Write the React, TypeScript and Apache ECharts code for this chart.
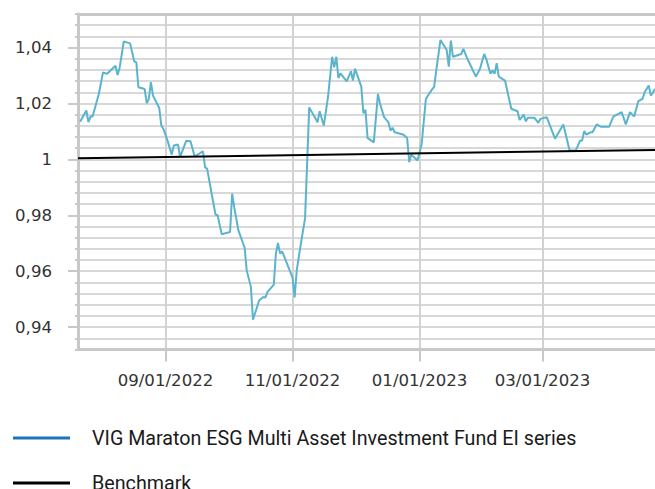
import React, { useEffect, useRef } from 'react';
import * as echarts from 'echarts';

const xStart = '2022-07-21';
const xEnd = '2023-04-24';
const xTickDates = ['2022-09-01', '2022-11-01', '2023-01-01', '2023-03-01'];

const yMin = 0.932;
const yMax = 1.052;
const yStep = 0.004;
const yLabelValues = [0.94, 0.96, 0.98, 1, 1.02, 1.04];

const fundName = 'VIG Maraton ESG Multi Asset Investment Fund EI series';
const benchName = 'Benchmark';

const fundDates = [
  '2022-07-22', '2022-07-25', '2022-07-26', '2022-07-27', '2022-07-28', '2022-07-31',
  '2022-08-02', '2022-08-04', '2022-08-08', '2022-08-09', '2022-08-10', '2022-08-12',
  '2022-08-15', '2022-08-17', '2022-08-18', '2022-08-19', '2022-08-22', '2022-08-23',
  '2022-08-24', '2022-08-25', '2022-08-26', '2022-08-29', '2022-08-30', '2022-08-31',
  '2022-09-02', '2022-09-04', '2022-09-05', '2022-09-07', '2022-09-08', '2022-09-11',
  '2022-09-13', '2022-09-15', '2022-09-19', '2022-09-20', '2022-09-21', '2022-09-25',
  '2022-09-26', '2022-09-28', '2022-10-02', '2022-10-03', '2022-10-04', '2022-10-06',
  '2022-10-09', '2022-10-10', '2022-10-12', '2022-10-13', '2022-10-16', '2022-10-18',
  '2022-10-19', '2022-10-20', '2022-10-23', '2022-10-24', '2022-10-25', '2022-10-26',
  '2022-10-27', '2022-11-01', '2022-11-02', '2022-11-03', '2022-11-05', '2022-11-07',
  '2022-11-09', '2022-11-13', '2022-11-14', '2022-11-16', '2022-11-18', '2022-11-20',
  '2022-11-21', '2022-11-22', '2022-11-23', '2022-11-24', '2022-11-27', '2022-11-29',
  '2022-11-30', '2022-12-01', '2022-12-04', '2022-12-05', '2022-12-06', '2022-12-07',
  '2022-12-10', '2022-12-12', '2022-12-13', '2022-12-15', '2022-12-17', '2022-12-18',
  '2022-12-19', '2022-12-20', '2022-12-24', '2022-12-26', '2022-12-27', '2022-12-28',
  '2022-12-31', '2023-01-02', '2023-01-04', '2023-01-06', '2023-01-08', '2023-01-09',
  '2023-01-11', '2023-01-14', '2023-01-15', '2023-01-16', '2023-01-17', '2023-01-21',
  '2023-01-22', '2023-01-24', '2023-01-28', '2023-01-30', '2023-02-01', '2023-02-02',
  '2023-02-04', '2023-02-05', '2023-02-06', '2023-02-07', '2023-02-08', '2023-02-11',
  '2023-02-14', '2023-02-17', '2023-02-18', '2023-02-20', '2023-02-21', '2023-02-22',
  '2023-02-25', '2023-02-27', '2023-02-28', '2023-03-03', '2023-03-07', '2023-03-11',
  '2023-03-14', '2023-03-17', '2023-03-19', '2023-03-20', '2023-03-21', '2023-03-22',
  '2023-03-24', '2023-03-25', '2023-03-27', '2023-03-29', '2023-04-02', '2023-04-04',
  '2023-04-08', '2023-04-10', '2023-04-12', '2023-04-14', '2023-04-16', '2023-04-18',
  '2023-04-19', '2023-04-21', '2023-04-22', '2023-04-24',
];

const fundValues = [
  1.0135, 1.0175, 1.0133, 1.0153, 1.0153, 1.0234,
  1.0311, 1.0306, 1.0335, 1.0302, 1.0329, 1.0422,
  1.0415, 1.0351, 1.0347, 1.0258, 1.0252, 1.0201,
  1.0216, 1.0276, 1.0228, 1.0184, 1.0121, 1.0109,
  1.0067, 1.0017, 1.005, 1.0053, 1.0008, 1.0067,
  1.0065, 1.001, 1.0029, 0.9972, 0.9966, 0.9803,
  0.98, 0.9732, 0.974, 0.9877, 0.9829, 0.9746,
  0.9684, 0.9603, 0.9544, 0.9427, 0.9496, 0.9508,
  0.9506, 0.9526, 0.9552, 0.9663, 0.9701, 0.9663,
  0.9671, 0.9577, 0.9506, 0.9603, 0.9699, 0.9788,
  1.0186, 1.0133, 1.0172, 1.0121, 1.0222, 1.0367,
  1.0329, 1.0367, 1.0291, 1.0308, 1.0279, 1.0315,
  1.0282, 1.0324, 1.026, 1.0165, 1.0177, 1.0077,
  1.0061, 1.0234, 1.0199, 1.015, 1.0133, 1.0103,
  1.0113, 1.0097, 1.0089, 1.0077, 0.999, 1.0017,
  0.9996, 1.0056, 1.0216, 1.024, 1.026, 1.0318,
  1.0427, 1.0391, 1.0332, 1.0425, 1.0367, 1.0377,
  1.0395, 1.0359, 1.0296, 1.0324, 1.0377, 1.0359,
  1.0306, 1.0318, 1.0306, 1.0344, 1.0296, 1.0282,
  1.0181, 1.0172, 1.0141, 1.016, 1.0136, 1.0149,
  1.0149, 1.0131, 1.0145, 1.0151, 1.0074, 1.0125,
  1.0032, 1.0032, 1.0067, 1.0067, 1.0101, 1.0089,
  1.0097, 1.0097, 1.0125, 1.0117, 1.0117, 1.0153,
  1.0169, 1.0125, 1.0169, 1.0153, 1.0208, 1.0216,
  1.024, 1.0264, 1.0228, 1.0252,
];

const benchDates = ['2022-07-21', '2023-04-24'];
const benchValues = [1.0004, 1.0034];

function buildDays(start: string, end: string): string[] {
  const out: string[] = [];
  const d = new Date(start + 'T00:00:00Z');
  const e = new Date(end + 'T00:00:00Z');
  while (d.getTime() <= e.getTime()) {
    out.push(d.toISOString().slice(0, 10));
    d.setUTCDate(d.getUTCDate() + 1);
  }
  return out;
}

export default function App() {
  const ref = useRef<HTMLDivElement>(null);

  useEffect(() => {
    if (!ref.current) return;
    const chart = echarts.init(ref.current, undefined, { renderer: 'svg' });

    const days = buildDays(xStart, xEnd);
    const nSteps = Math.round((yMax - yMin) / yStep);
    const yCats: string[] = [];
    for (let i = 0; i <= nSteps; i++) yCats.push((yMin + i * yStep).toFixed(3));
    const yMajor = yLabelValues.map((v) => v.toFixed(3));

    const isXTick = (_i: number, v: string) => xTickDates.indexOf(v) >= 0;
    const isYTick = (_i: number, v: string) => yMajor.indexOf(v) >= 0;

    const grey = '#c8c8c8';
    const axisFont = 'DejaVu Sans, Verdana, sans-serif';

    const legendBase = {
      orient: 'vertical',
      left: 8,
      icon: 'rect',
      itemWidth: 57,
      itemHeight: 3,
      selectedMode: false,
      textStyle: {
        fontFamily: 'Roboto, sans-serif',
        fontSize: 19.7,
        lineHeight: 20,
        color: '#1a1a1a',
        padding: [0, 0, 0, 17],
      },
    };

    chart.setOption({
      animation: false,
      grid: { left: 78, right: 0, top: 14, height: 335.5, containLabel: false },
      legend: [
        {
          ...legendBase,
          top: 423,
          data: [{ name: fundName, itemStyle: { color: '#1B75BC' } }],
        },
        {
          ...legendBase,
          top: 468,
          data: [{ name: benchName, itemStyle: { color: '#000000' } }],
        },
      ],
      xAxis: [
        {
          type: 'category',
          data: days,
          boundaryGap: false,
          axisLine: { show: true, lineStyle: { color: grey, width: 3 } },
          axisTick: { show: true, interval: isXTick, length: 12, lineStyle: { color: grey, width: 2 } },
          axisLabel: {
            interval: isXTick,
            margin: 22,
            color: '#333333',
            fontFamily: axisFont,
            fontSize: 16.6,
            formatter: (v: string) => `${v.slice(5, 7)}/${v.slice(8, 10)}/${v.slice(0, 4)}`,
          },
          splitLine: { show: true, interval: isXTick, lineStyle: { color: '#d2d2d2', width: 2 } },
        },
        {
          type: 'category',
          data: days,
          boundaryGap: false,
          position: 'top',
          axisLine: { show: true, lineStyle: { color: grey, width: 3 } },
          axisTick: { show: false },
          axisLabel: { show: false },
          splitLine: { show: false },
        },
      ],
      yAxis: [
        {
          type: 'value',
          min: yMin,
          max: yMax,
          interval: yStep,
          position: 'left',
          axisLine: { show: true, lineStyle: { color: grey, width: 3 } },
          axisTick: { show: true, length: 3, lineStyle: { color: grey, width: 2 } },
          axisLabel: { show: false },
          splitLine: { show: true, lineStyle: { color: '#cbcbcb', width: 1.5 } },
        },
        {
          type: 'category',
          data: yCats,
          boundaryGap: false,
          position: 'left',
          axisLine: { show: false },
          axisTick: { show: true, interval: isYTick, length: 10, lineStyle: { color: grey, width: 2 } },
          axisLabel: {
            interval: isYTick,
            margin: 26,
            color: '#333333',
            fontFamily: axisFont,
            fontSize: 16.6,
            formatter: (v: string) => String(parseFloat(v)).replace('.', ','),
          },
          splitLine: { show: false },
        },
      ],
      series: [
        {
          name: fundName,
          type: 'line',
          xAxisIndex: 0,
          yAxisIndex: 0,
          symbol: 'none',
          data: fundDates.map((d, i) => [d, fundValues[i]]),
          lineStyle: { color: '#5AB4CD', width: 2 },
          itemStyle: { color: '#5AB4CD' },
        },
        {
          name: benchName,
          type: 'line',
          xAxisIndex: 0,
          yAxisIndex: 0,
          symbol: 'none',
          data: benchDates.map((d, i) => [d, benchValues[i]]),
          lineStyle: { color: '#000000', width: 2 },
          itemStyle: { color: '#000000' },
        },
      ],
    });

    return () => chart.dispose();
  }, []);

  return (
    <div
      ref={ref}
      style={{ position: 'fixed', left: 0, top: 0, width: 655, height: 489, background: '#ffffff' }}
    />
  );
}
